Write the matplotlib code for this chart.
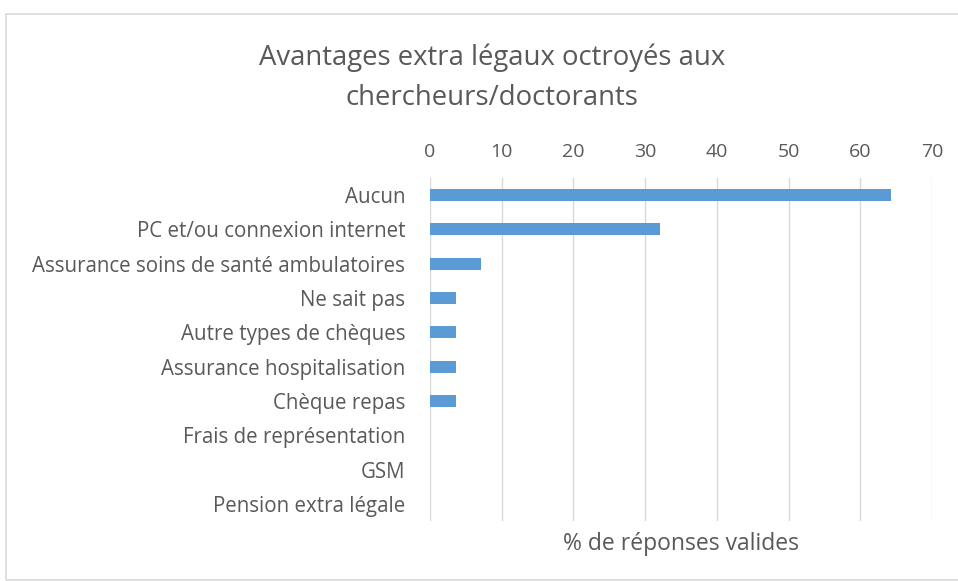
import matplotlib.pyplot as plt
from matplotlib.patches import Rectangle

categories = ["Aucun", "PC et/ou connexion internet", "Assurance soins de santé ambulatoires",
              "Ne sait pas", "Autre types de chèques", "Assurance hospitalisation",
              "Chèque repas", "Frais de représentation", "GSM", "Pension extra légale"]
values = [64.3, 32.1, 7.1, 3.6, 3.6, 3.6, 3.6, 0, 0, 0]
ticks = [0, 10, 20, 30, 40, 50, 60, 70]

plt.rcParams['font.family'] = ['Open Sans', 'DejaVu Sans']
txt = "#595959"

fig = plt.figure(figsize=(9.58, 5.81), dpi=100)
ax = fig.add_axes([0.4489, 0.1033, 0.524, 0.5903])

# figure frame
fig.patches.append(Rectangle((6/958, 0.002), 1.2, 1 - 14/581 - 0.002, transform=fig.transFigure,
                             fill=False, edgecolor="#d9d9d9", linewidth=1.2))

y = list(range(len(categories)))
ax.barh(y, values, height=0.35, color="#5b9bd5")
ax.set_ylim(len(categories) - 0.5, -0.5)
ax.set_xlim(0, 70)
ax.set_xticks(ticks)
ax.set_yticks(y)
ax.set_yticklabels(categories)
ax.xaxis.tick_top()
ax.tick_params(axis="x", length=0, pad=12, labelsize=14, labelcolor=txt)
ax.tick_params(axis="y", length=0, pad=18, labelsize=14.8, labelcolor=txt)
ax.grid(axis="x", color="#d9d9d9", linewidth=1)
ax.set_axisbelow(True)
for s in ax.spines.values():
    s.set_visible(False)

fig.text(492 / 958, 1 - 78 / 581, "Avantages extra légaux octroyés aux\nchercheurs/doctorants",
         ha="center", va="center", fontsize=19.8, color=txt, linespacing=1.58)
fig.text(ax.get_position().x0 + ax.get_position().width / 2, 1 - 544 / 581, "% de réponses valides",
         ha="center", va="center", fontsize=16.5, color=txt)

fig.savefig("out.png", dpi=100)
